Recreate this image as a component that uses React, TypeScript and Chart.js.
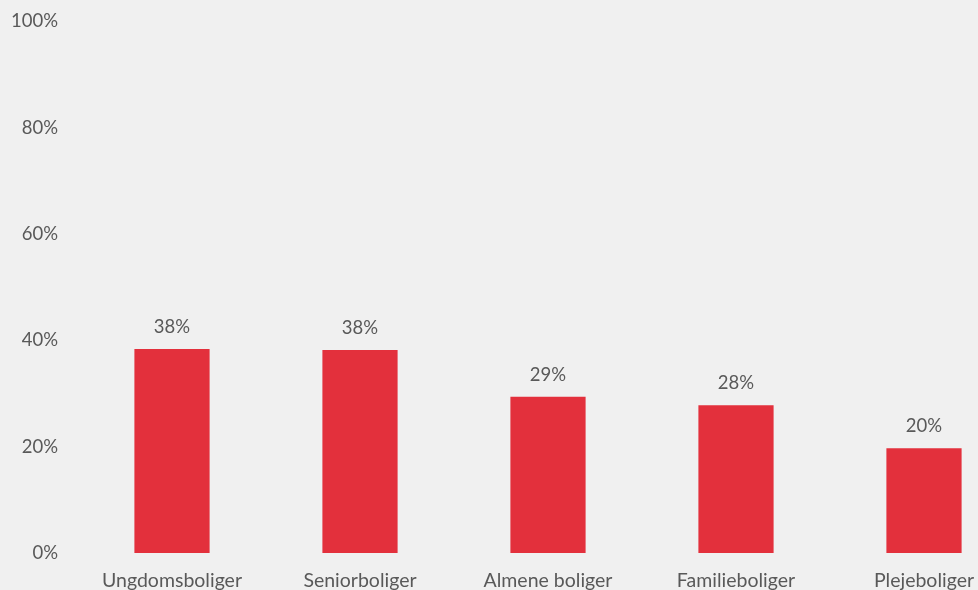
import React, { useEffect, useRef } from "react";
import { Chart, registerables } from "chart.js";

Chart.register(...registerables);

const categories = ["Ungdomsboliger", "Seniorboliger", "Almene boliger", "Familieboliger", "Plejeboliger"];
const values = [38.4, 38.2, 29.4, 27.8, 19.7];
const yTicks = [0, 20, 40, 60, 80, 100];

const TEXT = "#595959";
const FONT = "Lato, 'Open Sans', sans-serif";

const labelPlugin = {
  id: "barLabels",
  afterDatasetsDraw(chart: any) {
    const ctx = chart.ctx;
    const meta = chart.getDatasetMeta(0);
    ctx.save();
    ctx.fillStyle = TEXT;
    ctx.font = `18.5px ${FONT}`;
    ctx.textAlign = "center";
    ctx.textBaseline = "middle";
    meta.data.forEach((bar: any, i: number) => {
      ctx.fillText(Math.round(values[i]) + "%", bar.x, bar.y - 22);
    });
    ctx.restore();
  },
};

export default function App() {
  const ref = useRef<HTMLCanvasElement>(null);
  useEffect(() => {
    document.body.style.margin = "0";
    document.body.style.overflow = "hidden";
    const chart = new Chart(ref.current!, {
      type: "bar",
      data: {
        labels: categories,
        datasets: [
          {
            data: values,
            backgroundColor: "#e3303c",
            barPercentage: 0.8,
            categoryPercentage: 0.5,
          },
        ],
      },
      plugins: [labelPlugin],
      options: {
        animation: false,
        responsive: false,
        layout: { padding: { top: 21.5, right: 0, left: 0, bottom: 0 } },
        plugins: { legend: { display: false }, tooltip: { enabled: false } },
        scales: {
          x: {
            grid: { display: false, drawTicks: false },
            border: { display: false },
            ticks: { color: TEXT, font: { family: FONT, size: 19.5 }, padding: 16, maxRotation: 0, autoSkip: false },
            afterFit(scale: any) {
              scale.height = 47;
              scale.paddingLeft = 0;
              scale.paddingRight = 0;
            },
          },
          y: {
            min: 0,
            max: 100,
            afterBuildTicks(scale: any) {
              scale.ticks = yTicks.map((v) => ({ value: v }));
            },
            grid: { display: false, drawTicks: false },
            border: { display: false },
            ticks: {
              color: TEXT,
              font: { family: FONT, size: 18.5 },
              padding: 20,
              callback: (v: any) => v + "%",
            },
            afterFit(scale: any) {
              scale.width = 78;
              scale.paddingTop = 0;
              scale.paddingBottom = 0;
            },
          },
        },
      },
    });
    return () => chart.destroy();
  }, []);
  return (
    <div style={{ position: "absolute", left: 0, top: 0, width: 978, height: 590, overflow: "hidden", background: "#f0f0f0" }}>
      <canvas ref={ref} width={1018} height={600} style={{ display: "block", width: 1018, height: 600 }} />
    </div>
  );
}
